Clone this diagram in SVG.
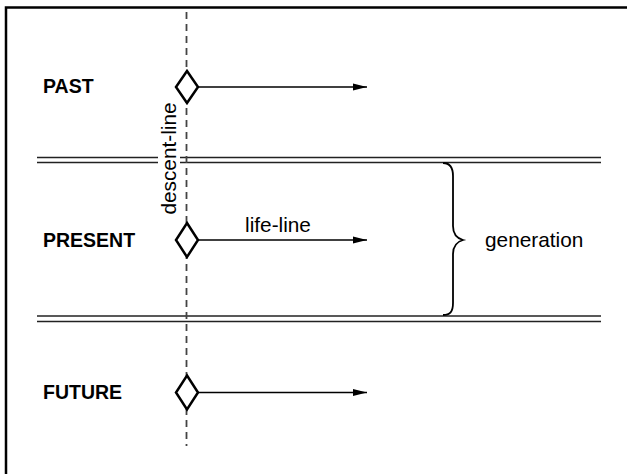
<svg xmlns="http://www.w3.org/2000/svg" width="627" height="474" viewBox="0 0 627 474">
<style>
.lbl{font-family:"Liberation Sans",Arial,sans-serif;font-size:19.5px;font-weight:bold;fill:#000}
.txt{font-family:"Liberation Sans",Arial,sans-serif;font-size:20.8px;fill:#000}
.dbl{stroke:#222;stroke-width:1.5;fill:none}
.dia{fill:#fff;stroke:#000;stroke-width:2.5}
.life{stroke:#000;stroke-width:1.5;fill:none}
</style>
<defs>
<marker id="ah" markerWidth="14" markerHeight="8" refX="14" refY="4" orient="auto" markerUnits="userSpaceOnUse">
<path d="M0,0.5 L14,4 L0,7.5 Z" fill="#000"/>
</marker>
</defs>
<rect x="6" y="7.5" width="700" height="600" fill="#fff" stroke="#000" stroke-width="2.5"/>
<g id="boundaries">
<line class="dbl" x1="37" y1="157.5" x2="158" y2="157.5"/>
<line class="dbl" x1="37" y1="162.5" x2="158" y2="162.5"/>
<line class="dbl" x1="180" y1="157.5" x2="601" y2="157.5"/>
<line class="dbl" x1="180" y1="162.5" x2="601" y2="162.5"/>
<line class="dbl" x1="37" y1="316" x2="601" y2="316"/>
<line class="dbl" x1="37" y1="321.5" x2="601" y2="321.5"/>
</g>
<g id="connectors">
<line id="descent-line" x1="186.5" y1="12" x2="186.5" y2="446" stroke="#444" stroke-width="1.8" stroke-dasharray="7,5"/>
<line class="life" x1="198" y1="87" x2="367" y2="87" marker-end="url(#ah)"/>
<line class="life" x1="198" y1="240" x2="367" y2="240" marker-end="url(#ah)"/>
<line class="life" x1="198" y1="392.5" x2="367" y2="392.5" marker-end="url(#ah)"/>
<text class="txt" text-anchor="middle" transform="translate(176,158.5) rotate(-90)">descent-line</text>
<text class="txt" x="278" y="231.5" text-anchor="middle">life-line</text>
</g>
<g id="past">
<text class="lbl" x="43" y="93">PAST</text>
<polygon class="dia" points="187,71 198,87 187,103 176,87"/>
</g>
<g id="present">
<text class="lbl" x="43" y="247">PRESENT</text>
<polygon class="dia" points="187,223 198,240 187,257 176,240"/>
</g>
<g id="future">
<text class="lbl" x="43" y="399">FUTURE</text>
<polygon class="dia" points="187,375.5 198,392.5 187,409.5 176,392.5"/>
</g>
<g id="generation">
<path d="M443,163 C450,163 453,167 453,176 L453,226 C453,234 456,238 463,240 C456,242 453,246 453,254 L453,303 C453,312 450,315 443,315" fill="none" stroke="#000" stroke-width="1.8"/>
<text class="txt" x="485" y="247">generation</text>
</g>
</svg>
